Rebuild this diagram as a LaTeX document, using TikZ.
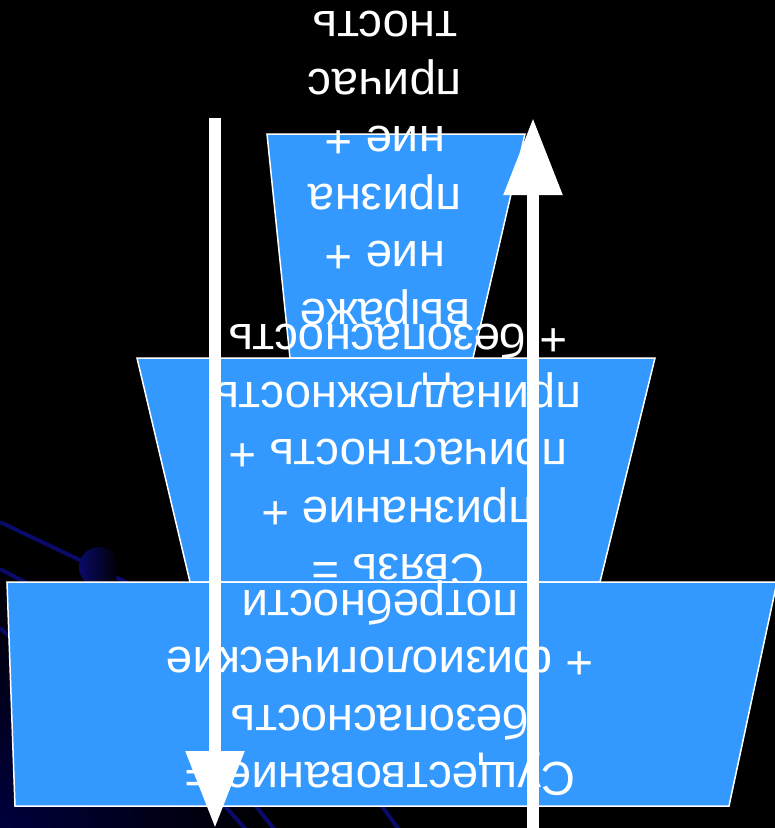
\documentclass[tikz,border=0pt]{standalone}
\usepackage{fontspec}
\setmainfont{Liberation Sans}
\usetikzlibrary{arrows.meta}
\definecolor{boxblue}{RGB}{51,153,255}
\definecolor{navyline}{RGB}{10,10,105}
\definecolor{glow}{RGB}{0,0,60}
\begin{document}
\begin{tikzpicture}[x=1pt,y=-1pt,
  tier/.style={fill=boxblue, draw=white, line width=1.5pt, line join=miter},
  tiertext/.style={text=white, rotate=180, align=center, inner sep=0pt,
    font=\fontsize{47.5}{57.5}\selectfont},
  flow/.style={draw=white, line width=12pt, -{Triangle[width=56pt,length=77pt]}},
  deco/.style={draw=navyline, line width=4pt}]
\useasboundingbox (0,0) rectangle (775,828);
\fill[black] (0,0) rectangle (775,828);
% background decoration
\begin{scope}
  \clip (0,0) rectangle (775,828);
  \shade[inner color=glow, outer color=black] (0,828) circle (270);
  \draw[deco] (0,522) -- (170,603);
  \draw[deco] (0,569) -- (40,590);
  \draw[deco] (0,628) -- (20,646);
  \draw[deco] (205,784) -- (250,834);
  \draw[deco] (243,790) -- (278,834);
  \draw[deco] (369,788) -- (402,834);
  \shade[left color=navyline, right color=black] (99,567) circle (20);
\end{scope}
% top tier
\draw[tier] (267,134) -- (525,134) -- (473,358) -- (290,358) -- cycle;
\node[tiertext] (tTop) at (385,168) {выраже\\ние +\\призна\\ние +\\причас\\тность};
% middle tier
\draw[tier] (137,358) -- (655,358) -- (600,582) -- (190,582) -- cycle;
\node[tiertext] (tMid) at (398,456) {Связь =\\признание +\\причастность +\\принадлежность\\+ безопасность};
% bottom tier
\draw[tier] (7,582) -- (777,582) -- (729,806) -- (15,806) -- cycle;
\node[tiertext] (tBot) at (380,688) {Существование =\\безопасность\\+ физиологические\\потребности};
% arrows
\coordinate (dnStart) at (215,118);
\coordinate (dnEnd) at (215,828);
\coordinate (upStart) at (533,828);
\coordinate (upEnd) at (533,118);
\draw[flow] (dnStart) -- (dnEnd);
\draw[flow] (upStart) -- (upEnd);
\end{tikzpicture}
\end{document}
